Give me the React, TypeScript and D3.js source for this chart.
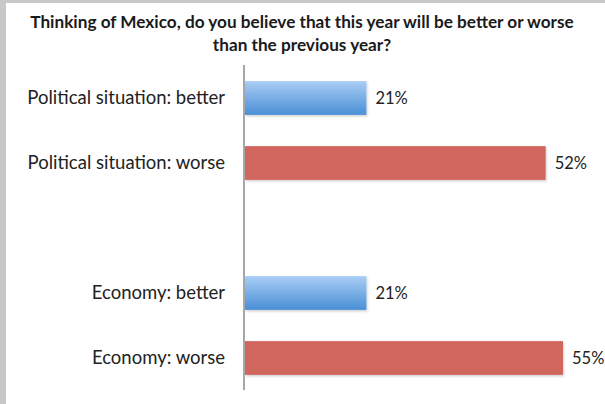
import React from "react";
import * as d3 from "d3";

const categories = [
  "Political situation: better",
  "Political situation: worse",
  "",
  "Economy: better",
  "Economy: worse",
];
const values: (number | null)[] = [21, 52, null, 21, 55];
const kinds = ["better", "worse", "", "better", "worse"];
const titleLines = [
  "Thinking of Mexico, do you believe that this year will be better or worse",
  "than the previous year?",
];

const W = 605;
const H = 404;

export default function App() {
  const x = d3.scaleLinear().domain([0, 55]).range([245, 563]);
  const y = d3
    .scaleBand<string>()
    .domain(categories.map((c, i) => String(i)))
    .range([65.5, 390.5])
    .paddingInner(0.48)
    .paddingOuter(0.24);
  const font = "Lato, 'Open Sans', sans-serif";
  return (
    <svg
      width={W}
      height={H}
      style={{ position: "absolute", left: 0, top: 0 }}
    >
      <defs>
        <linearGradient id="blueGrad" x1="0" y1="0" x2="0" y2="1">
          <stop offset="0" stopColor="#a9cdf5" />
          <stop offset="1" stopColor="#4a8fd6" />
        </linearGradient>
        <filter id="shadow" x="-5%" y="-20%" width="110%" height="150%">
          <feDropShadow dx="1" dy="1.5" stdDeviation="1" floodColor="#000" floodOpacity="0.18" />
        </filter>
      </defs>
      <rect x={0} y={0} width={W} height={H} fill="#c8c8c8" />
      <rect x={6} y={3} width={W - 6} height={H - 3} fill="#ffffff" />
      {titleLines.map((t, i) => (
        <text
          key={i}
          x={302}
          y={28 + i * 23}
          textAnchor="middle"
          fontFamily={font}
          fontWeight="bold"
          fontSize={17.2}
          fill="#1a1a1a"
        >
          {t}
        </text>
      ))}
      {categories.map((c, i) => {
        const v = values[i];
        if (v === null) return null;
        const by = y(String(i))!;
        const bh = y.bandwidth();
        return (
          <g key={i}>
            <text
              x={225}
              y={by + bh / 2}
              dy="0.35em"
              textAnchor="end"
              fontFamily={font}
              fontSize={18.5}
              fill="#222"
            >
              {c}
            </text>
            <rect
              x={x(0)}
              y={by}
              width={x(v) - x(0)}
              height={bh}
              fill={kinds[i] === "better" ? "url(#blueGrad)" : "#d1665f"}
              filter="url(#shadow)"
            />
            <text
              x={x(v) + 9}
              y={by + bh / 2}
              dy="0.35em"
              fontFamily={font}
              fontSize={16.5}
              fill="#222"
            >
              {v + "%"}
            </text>
          </g>
        );
      })}
      <line x1={244} x2={244} y1={65} y2={390} stroke="#8a8a8a" strokeWidth={1.5} />
    </svg>
  );
}
